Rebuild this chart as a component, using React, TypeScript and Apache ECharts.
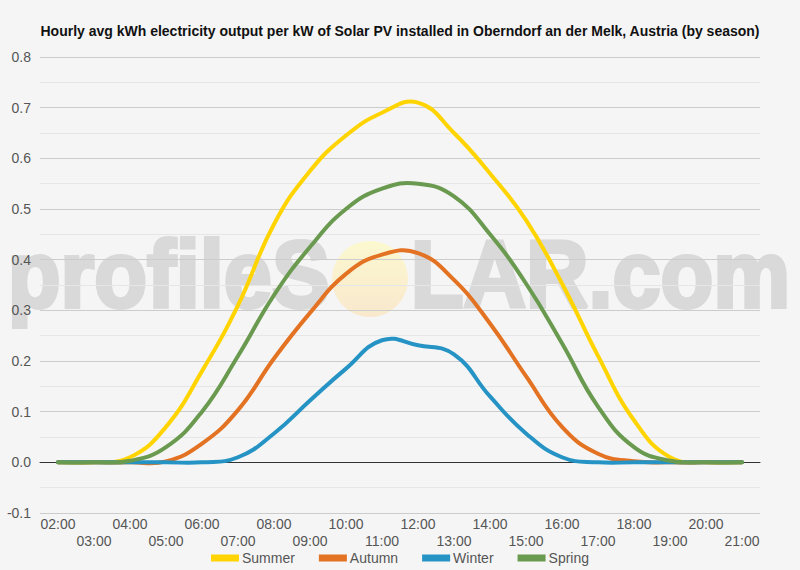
import React, { useEffect, useRef } from "react";
import * as echarts from "echarts";

const hours = ["02:00","03:00","04:00","05:00","06:00","07:00","08:00","09:00","10:00","11:00","12:00","13:00","14:00","15:00","16:00","17:00","18:00","19:00","20:00","21:00"];
const summer = [0, 0, 0.01, 0.07, 0.18, 0.31, 0.47, 0.575, 0.645, 0.69, 0.71, 0.65, 0.57, 0.478, 0.353, 0.21, 0.083, 0.01, 0, 0];
const autumn = [0, 0, 0, 0.002, 0.037, 0.103, 0.205, 0.295, 0.372, 0.41, 0.413, 0.36, 0.274, 0.17, 0.07, 0.017, 0.002, 0, 0, 0];
const winter = [0, 0, 0, 0, 0, 0.01, 0.057, 0.122, 0.185, 0.241, 0.231, 0.213, 0.13, 0.057, 0.01, 0, 0, 0, 0, 0];
const spring = [0, 0, 0.003, 0.03, 0.1, 0.21, 0.33, 0.425, 0.5, 0.54, 0.55, 0.525, 0.45, 0.353, 0.235, 0.11, 0.03, 0.003, 0, 0];
const seriesNames = ["Summer", "Autumn", "Winter", "Spring"];
const seriesColors = ["#FFD400", "#E37222", "#2693C5", "#6A9A4F"];
const titleText = "Hourly avg kWh electricity output per kW of Solar PV installed in Oberndorf an der Melk, Austria (by season)";

const TENSION = 0.45;

function splinePath(pts: number[][]): string {
  const n = pts.length;
  const cpsPrev: number[][] = [];
  const cpsNext: number[][] = [];
  for (let i = 0; i < n; i++) {
    const cur = pts[i];
    const prev = pts[Math.max(0, i - 1)];
    const next = pts[Math.min(n - 1, i + 1)];
    const d01 = Math.hypot(cur[0] - prev[0], cur[1] - prev[1]);
    const d12 = Math.hypot(next[0] - cur[0], next[1] - cur[1]);
    const tot = d01 + d12 || 1;
    const fa = (TENSION * d01) / tot;
    const fb = (TENSION * d12) / tot;
    const vx = next[0] - prev[0];
    const vy = next[1] - prev[1];
    cpsPrev.push([cur[0] - fa * vx, cur[1] - fa * vy]);
    cpsNext.push([cur[0] + fb * vx, cur[1] + fb * vy]);
  }
  let d = `M${pts[0][0]},${pts[0][1]}`;
  for (let i = 1; i < n; i++) {
    const c1 = cpsNext[i - 1];
    const c2 = cpsPrev[i];
    d += ` C${c1[0]},${c1[1]} ${c2[0]},${c2[1]} ${pts[i][0]},${pts[i][1]}`;
  }
  return d;
}

export default function App() {
  const ref = useRef<HTMLDivElement>(null);
  useEffect(() => {
    if (!ref.current) return;
    const chart = echarts.init(ref.current, undefined, { renderer: "svg" });
    const data = [summer, autumn, winter, spring];
    const font = "'Liberation Sans', Arial, sans-serif";
    const wmFill = "#d9d9d9";
    const wmStyle = {
      fontSize: 95,
      fontWeight: "bold",
      fontFamily: font,
      fill: wmFill,
      stroke: wmFill,
      lineWidth: 4,
      lineJoin: "round",
    };
    chart.setOption({
      animation: false,
      backgroundColor: "#f5f5f5",
      textStyle: { fontFamily: font },
      title: {
        text: titleText,
        left: "center",
        top: 19,
        textStyle: { fontSize: 14, fontWeight: "bold", color: "#111", fontFamily: font },
      },
      legend: {
        data: seriesNames,
        top: 546,
        left: "center",
        icon: "rect",
        itemWidth: 28,
        itemHeight: 7,
        itemGap: 24,
        textStyle: { fontSize: 14, color: "#555", fontFamily: font, padding: [0, 0, 0, -2] },
      },
      grid: { left: 40, right: 40, top: 57, bottom: 57 },
      xAxis: [
        {
          type: "category",
          data: hours,
          boundaryGap: true,
          axisLine: { show: false, onZero: false },
          axisTick: { show: false },
          splitLine: { show: false },
          axisLabel: {
            interval: 0,
            color: "#555",
            fontSize: 14,
            lineHeight: 17,
            margin: 2,
            formatter: (v: string, i: number) => (i % 2 === 1 ? "\n" + v : v),
          },
        },
        {
          type: "category",
          data: hours,
          boundaryGap: true,
          position: "bottom",
          axisLine: { show: true, onZero: true, lineStyle: { color: "#333", width: 1 } },
          axisTick: { show: false },
          axisLabel: { show: false },
          splitLine: { show: false },
        },
      ],
      yAxis: {
        type: "value",
        min: -0.1,
        max: 0.8,
        interval: 0.1,
        axisLine: { show: false },
        axisTick: { show: false },
        axisLabel: {
          color: "#555",
          fontSize: 14,
          margin: 9,
          formatter: (v: number) => v.toFixed(1),
        },
        splitLine: { show: true, lineStyle: { color: "#cccccc", width: 1 } },
        minorTick: { show: false, splitNumber: 2 },
        minorSplitLine: { show: true, lineStyle: { color: "#e6e6e6", width: 1 } },
      },
      series: seriesNames.map((name, k) => ({
        name,
        type: "custom",
        xAxisIndex: 0,
        yAxisIndex: 0,
        data: data[k].map((v, i) => [i, v]),
        encode: { x: 0, y: 1 },
        itemStyle: { color: seriesColors[k] },
        z: 3 + k,
        silent: true,
        renderItem: (params: any, api: any) => {
          if (params.dataIndex !== 0) return null;
          const pts = data[k].map((v, i) => api.coord([i, v]));
          return {
            type: "path",
            shape: { pathData: splinePath(pts) },
            style: {
              fill: "none",
              stroke: seriesColors[k],
              lineWidth: 4,
              lineJoin: "round",
              lineCap: "round",
            },
          };
        },
      })),
      graphic: [
        {
          type: "text",
          z: -10,
          left: 6,
          top: 225,
          silent: true,
          scaleX: 0.91,
          style: { ...wmStyle, text: "profileS" },
        },
        {
          type: "circle",
          z: -10,
          silent: true,
          shape: { cx: 370, cy: 279, r: 38 },
          style: {
            fill: new echarts.graphic.LinearGradient(0, 0, 0, 1, [
              { offset: 0, color: "#fbf8cf" },
              { offset: 1, color: "#f9e8cd" },
            ]),
          },
        },
        {
          type: "text",
          z: -10,
          left: 409,
          top: 225,
          silent: true,
          scaleX: 0.91,
          style: { ...wmStyle, text: "LAR.com" },
        },
      ],
    });
    return () => chart.dispose();
  }, []);
  return (
    <div
      ref={ref}
      style={{ position: "fixed", left: 0, top: 0, width: 800, height: 570 }}
    />
  );
}
